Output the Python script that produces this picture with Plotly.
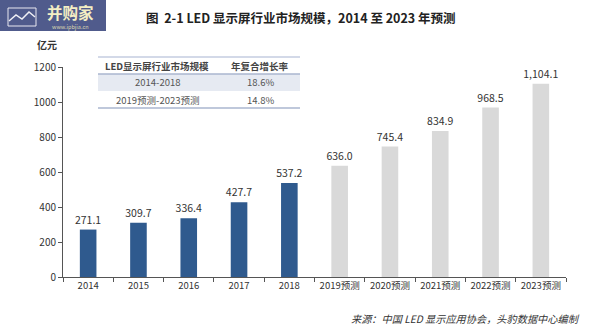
import plotly.graph_objects as go

# Market size of the LED display industry (100 million yuan)
years = ["2014", "2015", "2016", "2017", "2018",
         "2019预测", "2020预测", "2021预测", "2022预测", "2023预测"]
values = [271.1, 309.7, 336.4, 427.7, 537.2, 636.0, 745.4, 834.9, 968.5, 1104.1]
is_forecast = [False] * 5 + [True] * 5

# CAGR summary table
table_header = ["LED显示屏行业市场规模", "年复合增长率"]
table_periods = ["2014-2018", "2019预测-2023预测"]
table_rates = ["18.6%", "14.8%"]

FONT = "Noto Sans CJK SC, Noto Sans, sans-serif"
BLUE = "#2f5a8e"
GREY = "#d9d9d9"

W, H = 600, 328
L, R, T, B = 63, 34, 67, 51
pw, ph = W - L - R, H - T - B


def px(x):
    return (x - L) / pw


def py(y):
    return (H - B - y) / ph


def fmt(v):
    return f"{v:,.1f}"


def note(x, y, text, size, color, xanchor="center"):
    return dict(xref="paper", yref="paper", x=px(x), y=py(y), text=text,
                showarrow=False, xanchor=xanchor, yanchor="middle",
                font=dict(family=FONT, size=size, color=color))


fig = go.Figure(go.Bar(
    x=years, y=values,
    marker=dict(color=[GREY if f else BLUE for f in is_forecast], line=dict(width=0)),
    width=0.33,
    text=[fmt(v) for v in values],
    textposition="outside",
    constraintext="none",
    textfont=dict(family=FONT, size=10.5, color="#333333"),
    cliponaxis=False,
))

shapes = []
annotations = []

# summary table
tx0, tx1 = 98, 300
row_y = [57, 74, 91, 108]
shapes.append(dict(type="rect", xref="paper", yref="paper",
                   x0=px(tx0), x1=px(tx1), y0=py(row_y[2]), y1=py(row_y[1]),
                   fillcolor="#e6eaf2", line=dict(width=0), layer="below"))
for yy, c in [(row_y[0], "#c5cde0"), (row_y[1], "#aab6cf"), (row_y[3], "#aab6cf")]:
    shapes.append(dict(type="line", xref="paper", yref="paper",
                       x0=px(tx0), x1=px(tx1), y0=py(yy), y1=py(yy),
                       line=dict(color=c, width=1.5)))
col_x = [157, 260]
for i, h in enumerate(table_header):
    annotations.append(note(col_x[i], (row_y[0] + row_y[1]) / 2, f"<b>{h}</b>", 9.5, "#444444"))
for r in range(2):
    yc = (row_y[r + 1] + row_y[r + 2]) / 2
    annotations.append(note(col_x[0], yc, table_periods[r], 9.5, "#555555"))
    annotations.append(note(col_x[1], yc, table_rates[r], 9.5, "#555555"))

# unit label
annotations.append(note(47, 45, "<b>亿元</b>", 10, "#333333"))

# title
annotations.append(note(301, 18, "<b>图  2-1 LED 显示屏行业市场规模，2014 至 2023 年预测</b>",
                        12.5, "#222222"))

# source note
annotations.append(note(582, 318, "<i>来源：中国 LED 显示应用协会，头豹数据中心编制</i>",
                        10.2, "#333333", xanchor="right"))

# logo badge
shapes.append(dict(type="rect", xref="paper", yref="paper",
                   x0=px(-4), x1=px(106), y0=py(31), y1=py(-4),
                   fillcolor="#505b8c", line=dict(width=0)))
shapes.append(dict(type="rect", xref="paper", yref="paper",
                   x0=px(8), x1=px(36), y0=py(26), y1=py(8),
                   fillcolor="rgba(0,0,0,0)", line=dict(color="#e8e8f0", width=1)))
shapes.append(dict(type="path", xref="paper", yref="paper",
                   path=(f"M {px(9)},{py(21)} L {px(16)},{py(15)} L {px(22)},{py(19)} "
                         f"L {px(29)},{py(12)} L {px(35)},{py(17)}"),
                   line=dict(color="#f0f0f5", width=1.5)))
annotations.append(note(70, 12, "<b>并购家</b>", 15.5, "#f4eec4"))
annotations.append(note(70, 27, "www.ipbjia.cn", 5.5, "#d8d4b0"))

fig.update_layout(
    width=W, height=H,
    margin=dict(l=L, r=R, t=T, b=B, autoexpand=False),
    paper_bgcolor="white", plot_bgcolor="white",
    showlegend=False,
    shapes=shapes,
    annotations=annotations,
    bargap=0.67,
    xaxis=dict(
        showline=True, linecolor="#555555", linewidth=1,
        ticks="outside", tickson="boundaries", ticklen=4, tickcolor="#555555",
        tickangle=0,
        tickfont=dict(family=FONT, size=9.5, color="#333333"),
        showgrid=False,
    ),
    yaxis=dict(
        range=[0, 1200], dtick=200,
        showline=True, linecolor="#555555", linewidth=1,
        ticks="outside", ticklen=4, tickcolor="#555555",
        tickfont=dict(family=FONT, size=10, color="#333333"),
        showgrid=False, zeroline=False,
    ),
)

fig.write_html("out.html")
